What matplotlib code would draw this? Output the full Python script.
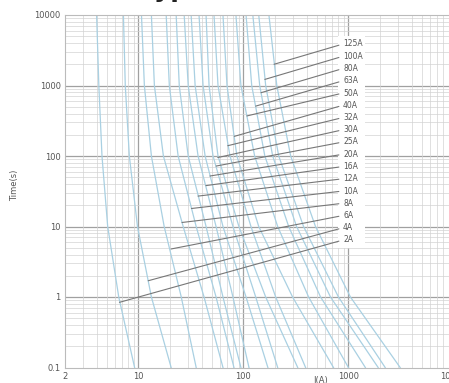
import numpy as np
import matplotlib.pyplot as plt
from matplotlib.ticker import FixedLocator, LogLocator, NullFormatter

# time points (s) at which each curve was read
times = [10000, 1000, 100, 10, 1, 0.1]

# melting current (A) of each fuse at those times
i_2a = [4.0, 4.2, 4.5, 5.1, 6.5, 9.2]
i_4a = [7.2, 7.5, 8.2, 9.8, 13.3, 20.5]
i_6a = [10.7, 11.4, 13.3, 17.6, 25.6, 35.5]
i_8a = [13.3, 14.2, 17.3, 26.7, 42.2, 63.9]
i_10a = [18.4, 19.7, 23.9, 35.5, 54.9, 81.3]
i_12a = [22.9, 24.5, 29.8, 44.1, 63.9, 94.7]
i_16a = [27.3, 29.8, 37.0, 54.9, 79.5, 113]
i_20a = [31.8, 34.7, 43.2, 63.9, 106, 171]
i_25a = [37.8, 41.3, 51.4, 79.5, 131, 212]
i_30a = [44.1, 47.1, 57.3, 90.6, 163, 329]
i_32a = [52.5, 57.3, 74.5, 118, 203, 391]
i_40a = [63.9, 69.8, 86.7, 140, 294, 721]
i_50a = [84.9, 94.7, 128, 212, 418, 1000]
i_63a = [106, 120, 160, 270, 543, 1450]
i_80a = [123, 143, 190, 321, 675, 1920]
i_100a = [140, 163, 217, 374, 804, 2240]
i_125a = [175, 208, 282, 486, 1045, 3110]

ratings = ["125A", "100A", "80A", "63A", "50A", "40A", "32A", "30A", "25A",
           "20A", "16A", "12A", "10A", "8A", "6A", "4A", "2A"]
curves = [i_125a, i_100a, i_80a, i_63a, i_50a, i_40a, i_32a, i_30a, i_25a,
          i_20a, i_16a, i_12a, i_10a, i_8a, i_6a, i_4a, i_2a]

# point where each leader line meets its curve
tag_current = [196, 160, 147, 131, 108, 82, 71, 57, 55, 48, 44, 37, 32, 26, 20.5, 12.4, 6.6]
tag_time = [2000, 1220, 790, 510, 370, 190, 140, 95, 72, 52, 38, 27, 18, 11.4, 4.8, 1.7, 0.84]

W, H = 449, 383
fig = plt.figure(figsize=(W / 100, H / 100), dpi=100)
ax = fig.add_axes([65 / W, 1 - 367.5 / H, 388.4 / W, 352.5 / H])

ax.set_xscale('log')
ax.set_yscale('log')
ax.set_xlim(2, 10000)
ax.set_ylim(0.1, 10000)

for cur in curves:
    ax.plot(cur, times, color='#a9d0e2', lw=0.9, zorder=2)

# grid
ax.xaxis.set_major_locator(FixedLocator([2, 10, 100, 1000, 10000]))
ax.xaxis.set_minor_locator(LogLocator(base=10, subs=np.arange(2, 10)))
ax.yaxis.set_major_locator(LogLocator(base=10))
ax.yaxis.set_minor_locator(LogLocator(base=10, subs=np.arange(2, 10)))
ax.xaxis.set_minor_formatter(NullFormatter())
ax.yaxis.set_minor_formatter(NullFormatter())
ax.set_xticklabels(["2", "10", "100", "1000", "10000"])
ax.set_yticks([0.1, 1, 10, 100, 1000, 10000])
ax.set_yticklabels(["0.1", "1", "10", "100", "1000", "10000"])
for xv in [10, 100, 1000]:
    ax.axvline(xv, color='#a0a0a0', lw=0.9, zorder=1)
for yv in [1, 10, 100, 1000]:
    ax.axhline(yv, color='#a0a0a0', lw=0.9, zorder=1)
ax.grid(True, which='minor', color='#d3d3d3', lw=0.5, zorder=0)
ax.tick_params(which='both', length=0, labelsize=6, labelcolor='#555555', pad=3)
for s in ax.spines.values():
    s.set_color('#bbbbbb')
    s.set_linewidth(0.8)

# label column with leader lines
lab_x = (343 - 65) / 388.4
lab_y = (367.5 - np.linspace(44, 240, len(ratings))) / 352.5
ax.add_patch(plt.Rectangle((lab_x - 0.012, lab_y[-1] - 0.022), 0.068,
                           lab_y[0] - lab_y[-1] + 0.044, transform=ax.transAxes,
                           facecolor='white', edgecolor='none', zorder=3))
for name, xc, yc, ty in zip(ratings, tag_current, tag_time, lab_y):
    ax.annotate(name, xy=(xc, yc), xytext=(lab_x, ty), textcoords='axes fraction',
                fontsize=5.5, color='#555555', va='center', ha='left', zorder=4,
                arrowprops=dict(arrowstyle='-', color='#777777', lw=0.8,
                                shrinkA=1, shrinkB=0, relpos=(0, 0.5)))

fig.text(15 / W, 1 - 185 / H, "Time(s)", rotation=90, fontsize=6,
         color='#555555', ha='center', va='center')
fig.text(321 / W, 1 - 381 / H, "I(A)", fontsize=6, color='#555555',
         ha='center', va='center')
# title sits above the picture; only the descenders of "yp" show
fig.text(140 / W, 1 + 3.5 / H, "Typical Characteristics", fontsize=18,
         fontweight='bold', ha='left', va='baseline', color='#222222')

fig.savefig('out.png', dpi=100)
